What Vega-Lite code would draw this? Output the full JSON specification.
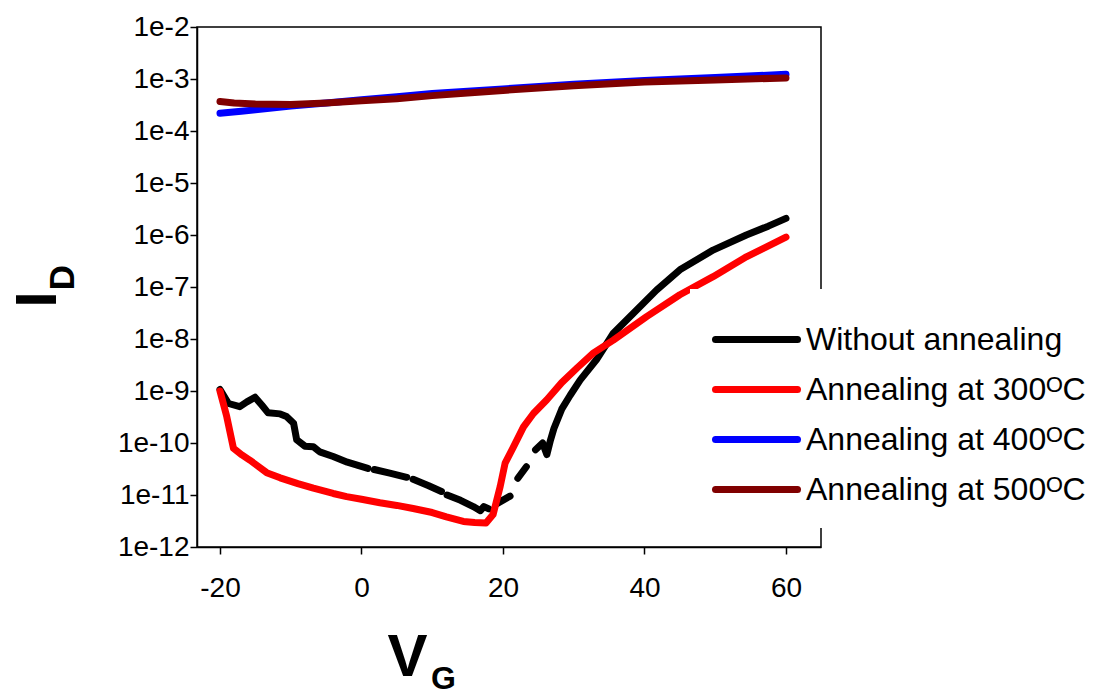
{
  "$schema": "https://vega.github.io/schema/vega-lite/v6.json",
  "width": 624,
  "height": 520,
  "autosize": {"type": "none"},
  "padding": {"left": 197, "top": 27, "right": 286, "bottom": 148},
  "background": "white",
  "config": {
    "view": {"stroke": "#000000", "strokeWidth": 1.5},
    "font": "Liberation Sans"
  },
  "data": {
    "values": [
      {"series": "Without annealing", "seg": 1, "vg": -20, "id": 1.07e-9},
      {"series": "Without annealing", "seg": 1, "vg": -18.8, "id": 5.75e-10},
      {"series": "Without annealing", "seg": 1, "vg": -17.2, "id": 5.0e-10},
      {"series": "Without annealing", "seg": 1, "vg": -16.2, "id": 6.17e-10},
      {"series": "Without annealing", "seg": 1, "vg": -15.05, "id": 7.59e-10},
      {"series": "Without annealing", "seg": 1, "vg": -14.1, "id": 5.37e-10},
      {"series": "Without annealing", "seg": 1, "vg": -13.2, "id": 3.8e-10},
      {"series": "Without annealing", "seg": 1, "vg": -11.5, "id": 3.63e-10},
      {"series": "Without annealing", "seg": 1, "vg": -10.6, "id": 3.24e-10},
      {"series": "Without annealing", "seg": 1, "vg": -9.6, "id": 2.4e-10},
      {"series": "Without annealing", "seg": 1, "vg": -9.16, "id": 1.15e-10},
      {"series": "Without annealing", "seg": 1, "vg": -8.0, "id": 8.7e-11},
      {"series": "Without annealing", "seg": 1, "vg": -6.8, "id": 8.5e-11},
      {"series": "Without annealing", "seg": 1, "vg": -5.9, "id": 6.76e-11},
      {"series": "Without annealing", "seg": 1, "vg": -4.0, "id": 5.5e-11},
      {"series": "Without annealing", "seg": 1, "vg": -2.0, "id": 4.27e-11},
      {"series": "Without annealing", "seg": 1, "vg": 0.9, "id": 3.24e-11},
      {"series": "Without annealing", "seg": 2, "vg": 1.8, "id": 3.09e-11},
      {"series": "Without annealing", "seg": 2, "vg": 4.0, "id": 2.63e-11},
      {"series": "Without annealing", "seg": 2, "vg": 6.4, "id": 2.19e-11},
      {"series": "Without annealing", "seg": 3, "vg": 7.3, "id": 2.0e-11},
      {"series": "Without annealing", "seg": 3, "vg": 9.5, "id": 1.51e-11},
      {"series": "Without annealing", "seg": 3, "vg": 11.3, "id": 1.17e-11},
      {"series": "Without annealing", "seg": 4, "vg": 12.1, "id": 1.0e-11},
      {"series": "Without annealing", "seg": 4, "vg": 14.0, "id": 7.9e-12},
      {"series": "Without annealing", "seg": 4, "vg": 15.8, "id": 6.0e-12},
      {"series": "Without annealing", "seg": 4, "vg": 16.8, "id": 5.0e-12},
      {"series": "Without annealing", "seg": 4, "vg": 17.3, "id": 6.0e-12},
      {"series": "Without annealing", "seg": 4, "vg": 18.0, "id": 5.4e-12},
      {"series": "Without annealing", "seg": 5, "vg": 19.2, "id": 6.9e-12},
      {"series": "Without annealing", "seg": 5, "vg": 21.0, "id": 9.5e-12},
      {"series": "Without annealing", "seg": 6, "vg": 22.1, "id": 2.1e-11},
      {"series": "Without annealing", "seg": 6, "vg": 23.3, "id": 3.5e-11},
      {"series": "Without annealing", "seg": 7, "vg": 24.6, "id": 7.4e-11},
      {"series": "Without annealing", "seg": 7, "vg": 25.6, "id": 1.0e-10},
      {"series": "Without annealing", "seg": 7, "vg": 26.2, "id": 6.0e-11},
      {"series": "Without annealing", "seg": 7, "vg": 26.7, "id": 1.12e-10},
      {"series": "Without annealing", "seg": 7, "vg": 27.2, "id": 1.9e-10},
      {"series": "Without annealing", "seg": 7, "vg": 28.3, "id": 4.47e-10},
      {"series": "Without annealing", "seg": 7, "vg": 29.5, "id": 8.3e-10},
      {"series": "Without annealing", "seg": 7, "vg": 30.9, "id": 1.62e-9},
      {"series": "Without annealing", "seg": 7, "vg": 33.2, "id": 3.98e-9},
      {"series": "Without annealing", "seg": 7, "vg": 35.6, "id": 1.29e-8},
      {"series": "Without annealing", "seg": 7, "vg": 38.4, "id": 3.09e-8},
      {"series": "Without annealing", "seg": 7, "vg": 41.7, "id": 8.7e-8},
      {"series": "Without annealing", "seg": 7, "vg": 45.0, "id": 2.14e-7},
      {"series": "Without annealing", "seg": 7, "vg": 49.7, "id": 5.13e-7},
      {"series": "Without annealing", "seg": 7, "vg": 54.4, "id": 1.0e-6},
      {"series": "Without annealing", "seg": 7, "vg": 57.5, "id": 1.48e-6},
      {"series": "Without annealing", "seg": 7, "vg": 60, "id": 2.09e-6},

      {"series": "Annealing at 300ᴼC", "seg": 0, "vg": -20, "id": 1.0e-9},
      {"series": "Annealing at 300ᴼC", "seg": 0, "vg": -19.05, "id": 3.24e-10},
      {"series": "Annealing at 300ᴼC", "seg": 0, "vg": -18.1, "id": 7.9e-11},
      {"series": "Annealing at 300ᴼC", "seg": 0, "vg": -16.9, "id": 5.9e-11},
      {"series": "Annealing at 300ᴼC", "seg": 0, "vg": -15.8, "id": 4.7e-11},
      {"series": "Annealing at 300ᴼC", "seg": 0, "vg": -13.4, "id": 2.69e-11},
      {"series": "Annealing at 300ᴼC", "seg": 0, "vg": -11.5, "id": 2.14e-11},
      {"series": "Annealing at 300ᴼC", "seg": 0, "vg": -9, "id": 1.66e-11},
      {"series": "Annealing at 300ᴼC", "seg": 0, "vg": -6.8, "id": 1.35e-11},
      {"series": "Annealing at 300ᴼC", "seg": 0, "vg": -4, "id": 1.07e-11},
      {"series": "Annealing at 300ᴼC", "seg": 0, "vg": -2.1, "id": 9.3e-12},
      {"series": "Annealing at 300ᴼC", "seg": 0, "vg": 0, "id": 8.3e-12},
      {"series": "Annealing at 300ᴼC", "seg": 0, "vg": 2.6, "id": 7.1e-12},
      {"series": "Annealing at 300ᴼC", "seg": 0, "vg": 5, "id": 6.3e-12},
      {"series": "Annealing at 300ᴼC", "seg": 0, "vg": 7.3, "id": 5.5e-12},
      {"series": "Annealing at 300ᴼC", "seg": 0, "vg": 10, "id": 4.6e-12},
      {"series": "Annealing at 300ᴼC", "seg": 0, "vg": 12.0, "id": 3.8e-12},
      {"series": "Annealing at 300ᴼC", "seg": 0, "vg": 14.4, "id": 3.1e-12},
      {"series": "Annealing at 300ᴼC", "seg": 0, "vg": 16.0, "id": 2.95e-12},
      {"series": "Annealing at 300ᴼC", "seg": 0, "vg": 17.6, "id": 2.9e-12},
      {"series": "Annealing at 300ᴼC", "seg": 0, "vg": 18.6, "id": 4.2e-12},
      {"series": "Annealing at 300ᴼC", "seg": 0, "vg": 19.6, "id": 1.45e-11},
      {"series": "Annealing at 300ᴼC", "seg": 0, "vg": 20.3, "id": 4.1e-11},
      {"series": "Annealing at 300ᴼC", "seg": 0, "vg": 21.5, "id": 8.5e-11},
      {"series": "Annealing at 300ᴼC", "seg": 0, "vg": 22.9, "id": 2.04e-10},
      {"series": "Annealing at 300ᴼC", "seg": 0, "vg": 24.3, "id": 3.7e-10},
      {"series": "Annealing at 300ᴼC", "seg": 0, "vg": 26.2, "id": 6.8e-10},
      {"series": "Annealing at 300ᴼC", "seg": 0, "vg": 28.3, "id": 1.45e-9},
      {"series": "Annealing at 300ᴼC", "seg": 0, "vg": 30.5, "id": 2.8e-9},
      {"series": "Annealing at 300ᴼC", "seg": 0, "vg": 32.8, "id": 5.4e-9},
      {"series": "Annealing at 300ᴼC", "seg": 0, "vg": 35.6, "id": 9.5e-9},
      {"series": "Annealing at 300ᴼC", "seg": 0, "vg": 40.3, "id": 2.7e-8},
      {"series": "Annealing at 300ᴼC", "seg": 0, "vg": 45.0, "id": 7.1e-8},
      {"series": "Annealing at 300ᴼC", "seg": 0, "vg": 49.7, "id": 1.58e-7},
      {"series": "Annealing at 300ᴼC", "seg": 0, "vg": 54.4, "id": 3.8e-7},
      {"series": "Annealing at 300ᴼC", "seg": 0, "vg": 60, "id": 9.1e-7},

      {"series": "Annealing at 400ᴼC", "seg": 0, "vg": -20, "id": 2.2e-4},
      {"series": "Annealing at 400ᴼC", "seg": 0, "vg": -17, "id": 2.4e-4},
      {"series": "Annealing at 400ᴼC", "seg": 0, "vg": -15, "id": 2.55e-4},
      {"series": "Annealing at 400ᴼC", "seg": 0, "vg": -10, "id": 3.02e-4},
      {"series": "Annealing at 400ᴼC", "seg": 0, "vg": -5, "id": 3.47e-4},
      {"series": "Annealing at 400ᴼC", "seg": 0, "vg": 0, "id": 3.98e-4},
      {"series": "Annealing at 400ᴼC", "seg": 0, "vg": 5, "id": 4.57e-4},
      {"series": "Annealing at 400ᴼC", "seg": 0, "vg": 10, "id": 5.25e-4},
      {"series": "Annealing at 400ᴼC", "seg": 0, "vg": 20, "id": 6.46e-4},
      {"series": "Annealing at 400ᴼC", "seg": 0, "vg": 30, "id": 7.94e-4},
      {"series": "Annealing at 400ᴼC", "seg": 0, "vg": 40, "id": 9.33e-4},
      {"series": "Annealing at 400ᴼC", "seg": 0, "vg": 50, "id": 1.07e-3},
      {"series": "Annealing at 400ᴼC", "seg": 0, "vg": 60, "id": 1.23e-3},

      {"series": "Annealing at 500ᴼC", "seg": 0, "vg": -20, "id": 3.7e-4},
      {"series": "Annealing at 500ᴼC", "seg": 0, "vg": -18, "id": 3.47e-4},
      {"series": "Annealing at 500ᴼC", "seg": 0, "vg": -15, "id": 3.31e-4},
      {"series": "Annealing at 500ᴼC", "seg": 0, "vg": -10, "id": 3.24e-4},
      {"series": "Annealing at 500ᴼC", "seg": 0, "vg": -5, "id": 3.47e-4},
      {"series": "Annealing at 500ᴼC", "seg": 0, "vg": 0, "id": 3.8e-4},
      {"series": "Annealing at 500ᴼC", "seg": 0, "vg": 5, "id": 4.17e-4},
      {"series": "Annealing at 500ᴼC", "seg": 0, "vg": 10, "id": 4.79e-4},
      {"series": "Annealing at 500ᴼC", "seg": 0, "vg": 15, "id": 5.37e-4},
      {"series": "Annealing at 500ᴼC", "seg": 0, "vg": 20, "id": 6.03e-4},
      {"series": "Annealing at 500ᴼC", "seg": 0, "vg": 30, "id": 7.41e-4},
      {"series": "Annealing at 500ᴼC", "seg": 0, "vg": 40, "id": 8.71e-4},
      {"series": "Annealing at 500ᴼC", "seg": 0, "vg": 50, "id": 9.55e-4},
      {"series": "Annealing at 500ᴼC", "seg": 0, "vg": 60, "id": 1.05e-3}
    ]
  },
  "layer": [
    {
      "mark": {"type": "line", "strokeWidth": 7, "strokeCap": "round", "strokeJoin": "round"},
      "encoding": {
        "x": {
          "field": "vg", "type": "quantitative",
          "scale": {"domain": [-23.25, 64.95], "nice": false, "zero": false},
          "axis": {
            "values": [-20, 0, 20, 40, 60],
            "labelExpr": "datum.value < 0 ? '-' + abs(datum.value) : '' + datum.value",
            "grid": false,
            "labelFont": "Liberation Sans", "labelFontSize": 28, "labelColor": "#000000",
            "labelPadding": 20,
            "tickSize": 7, "tickColor": "#000000", "tickWidth": 1.5,
            "domainColor": "#000000", "domainWidth": 1.5,
            "title": "V",
            "titleFont": "Liberation Sans", "titleFontSize": 60, "titleFontWeight": "bold", "titleColor": "#000000",
            "titleX": 210, "titleY": 128, "titleAlign": "center", "titleBaseline": "alphabetic", "titleAngle": 0
          }
        },
        "y": {
          "field": "id", "type": "quantitative",
          "scale": {"type": "log", "domain": [1e-12, 1e-2], "nice": false},
          "axis": {
            "values": [1e-12, 1e-11, 1e-10, 1e-9, 1e-8, 1e-7, 1e-6, 1e-5, 1e-4, 1e-3, 1e-2],
            "labelExpr": "'1e' + round(log(datum.value) / LN10)",
            "grid": false,
            "labelFont": "Liberation Sans", "labelFontSize": 28, "labelColor": "#000000",
            "labelPadding": 1,
            "tickSize": 7, "tickColor": "#000000", "tickWidth": 1.5,
            "domainColor": "#000000", "domainWidth": 1.5,
            "title": "I",
            "titleFont": "Liberation Sans", "titleFontSize": 58, "titleFontWeight": "bold", "titleColor": "#000000",
            "titleX": -142, "titleY": 272, "titleAlign": "center", "titleBaseline": "alphabetic", "titleAngle": 270
          }
        },
        "color": {
          "field": "series", "type": "nominal",
          "scale": {
            "domain": ["Without annealing", "Annealing at 300ᴼC", "Annealing at 400ᴼC", "Annealing at 500ᴼC"],
            "range": ["#000000", "#ff0000", "#0000ff", "#800000"]
          },
          "legend": {
            "orient": "none", "legendX": 493, "legendY": 262,
            "title": null,
            "fillColor": "#ffffff",
            "padding": 22,
            "symbolType": "M-1,0H2.28",
            "symbolSize": 2500,
            "symbolStrokeWidth": 7,
            "rowPadding": 5,
            "labelFont": "Liberation Sans", "labelFontSize": 32, "labelColor": "#000000",
            "labelOffset": 37, "labelLimit": 500,
            "encode": {"symbols": {"update": {"strokeCap": {"value": "round"}}}}
          }
        },
        "detail": {"field": "seg", "type": "nominal"}
      }
    },
    {
      "mark": {"type": "point", "opacity": 0},
      "encoding": {
        "x": {
          "field": "vg", "type": "quantitative",
          "scale": {"domain": [-23.25, 64.95], "nice": false, "zero": false},
          "axis": {
            "orient": "bottom", "domain": false, "ticks": false, "labels": false, "grid": false,
            "title": "G",
            "titleFont": "Liberation Sans", "titleFontSize": 32, "titleFontWeight": "bold", "titleColor": "#000000",
            "titleX": 246, "titleY": 141, "titleAlign": "center", "titleBaseline": "alphabetic", "titleAngle": 0
          }
        },
        "y": {
          "field": "id", "type": "quantitative",
          "scale": {"type": "log", "domain": [1e-12, 1e-2], "nice": false},
          "axis": {
            "orient": "left", "domain": false, "ticks": false, "labels": false, "grid": false,
            "title": "D",
            "titleFont": "Liberation Sans", "titleFontSize": 35, "titleFontWeight": "bold", "titleColor": "#000000",
            "titleX": -124, "titleY": 250, "titleAlign": "center", "titleBaseline": "alphabetic", "titleAngle": 270
          }
        }
      }
    }
  ],
  "resolve": {"axis": {"x": "independent", "y": "independent"}}
}
